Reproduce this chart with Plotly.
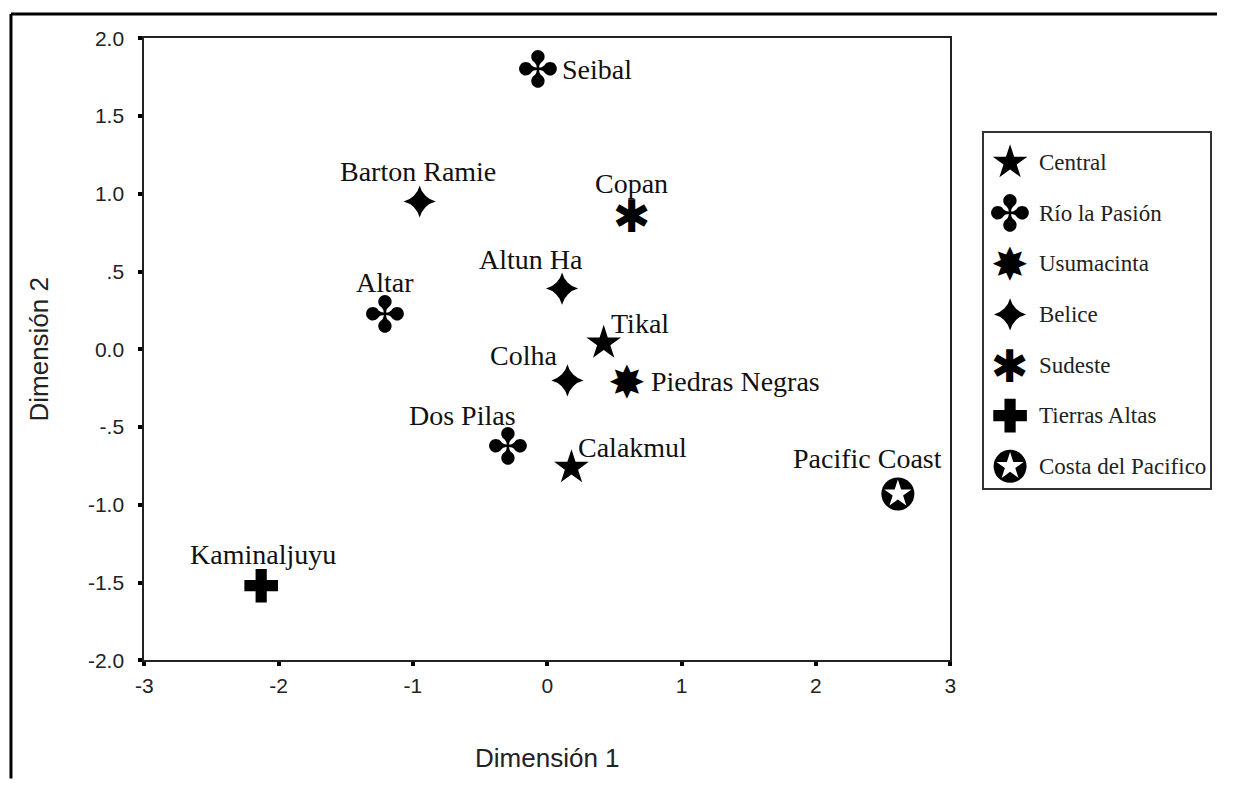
import plotly.graph_objects as go

# Site coordinates on the two MDS dimensions
sites = ["Seibal", "Barton Ramie", "Copan", "Altun Ha", "Altar", "Tikal", "Colha",
         "Piedras Negras", "Dos Pilas", "Calakmul", "Pacific Coast", "Kaminaljuyu"]
dim1 = [-0.07, -0.95, 0.63, 0.11, -1.21, 0.42, 0.15, 0.59, -0.29, 0.18, 2.61, -2.13]
dim2 = [1.80, 0.95, 0.86, 0.39, 0.23, 0.04, -0.20, -0.21, -0.62, -0.76, -0.93, -1.52]
region = ["Río la Pasión", "Belice", "Sudeste", "Belice", "Río la Pasión", "Central", "Belice",
          "Usumacinta", "Río la Pasión", "Central", "Costa del Pacifico", "Tierras Altas"]

regions = ["Central", "Río la Pasión", "Usumacinta", "Belice", "Sudeste",
           "Tierras Altas", "Costa del Pacifico"]

x_ticks = [-3, -2, -1, 0, 1, 2, 3]
y_ticks = [-2.0, -1.5, -1.0, -0.5, 0.0, 0.5, 1.0, 1.5, 2.0]
y_ticktext = ["-2.0", "-1.5", "-1.0", "-.5", "0.0", ".5", "1.0", "1.5", "2.0"]

# label placement relative to each marker: (xshift, yshift, xanchor)
label_pos = {
    "Seibal": (22, 0, "left"), "Barton Ramie": (-2, 30, "center"), "Copan": (0, 32, "center"),
    "Altun Ha": (-31, 29, "center"), "Altar": (0, 31, "center"), "Tikal": (36, 20, "center"),
    "Colha": (-44, 25, "center"), "Piedras Negras": (22, 0, "left"), "Dos Pilas": (-46, 30, "center"),
    "Calakmul": (61, 20, "center"), "Pacific Coast": (-30, 35, "center"),
    "Kaminaljuyu": (2, 31, "center"),
}

# marker style per region: ("symbol", name, size) or ("glyph", char, fontsize)
style = {
    "Central": ("symbol", "star", 26),
    "Río la Pasión": ("glyph", "\u2724", 50),
    "Usumacinta": ("glyph", "\u2738", 45),
    "Belice": ("symbol", "star-diamond", 23),
    "Sudeste": ("glyph", "\u2731", 45),
    "Tierras Altas": ("symbol", "cross", 28),
    "Costa del Pacifico": ("badge", None, 33),
}
GLYPH_DROP = -1  # small nudge so dingbat glyphs centre on their point

# the page body keeps an 8px margin on every side; the figure fills what is left
PAGE_W, PAGE_H, BODY = 1233, 798, 8
W, H = PAGE_W - 2 * BODY, PAGE_H - 2 * BODY
px = lambda v: (v - BODY) / W
py = lambda v: 1 - (v - BODY) / H

fig = go.Figure()


def add_marks(xs, ys, reg, xa="x", ya="y"):
    kind, val, size = style[reg]
    if kind == "symbol":
        fig.add_trace(go.Scatter(x=xs, y=ys, mode="markers", xaxis=xa, yaxis=ya,
                                 marker=dict(symbol=val, size=size, color="black",
                                             line=dict(width=0)),
                                 showlegend=False, hoverinfo="skip"))
    elif kind == "glyph":
        for xv, yv in zip(xs, ys):
            fig.add_annotation(x=xv, y=yv, xref=xa, yref=ya, text=val, showarrow=False,
                               xanchor="center", yanchor="middle", yshift=GLYPH_DROP,
                               font=dict(family="DejaVu Sans", size=size, color="black"))
    else:
        fig.add_trace(go.Scatter(x=xs, y=ys, mode="markers", xaxis=xa, yaxis=ya,
                                 marker=dict(symbol="circle", size=size, color="black",
                                             line=dict(width=0)),
                                 showlegend=False, hoverinfo="skip"))
        fig.add_trace(go.Scatter(x=xs, y=ys, mode="markers", xaxis=xa, yaxis=ya,
                                 marker=dict(symbol="star", size=size * 0.62, color="white",
                                             line=dict(width=0)),
                                 showlegend=False, hoverinfo="skip"))


# site markers grouped by region
for reg in regions:
    idx = [i for i, r in enumerate(region) if r == reg]
    if idx:
        add_marks([dim1[i] for i in idx], [dim2[i] for i in idx], reg)

# site labels
for name, xv, yv in zip(sites, dim1, dim2):
    dx, dy, anchor = label_pos[name]
    fig.add_annotation(x=xv, y=yv, xref="x", yref="y", text=name, showarrow=False,
                       xshift=dx, yshift=dy, xanchor=anchor, yanchor="middle",
                       font=dict(family="Liberation Serif", size=28, color="#111"))

# legend drawn on its own small axes
leg_y = list(range(1, len(regions) + 1))
for reg, yv in zip(regions, leg_y):
    add_marks([0.116], [yv], reg, xa="x2", ya="y2")
    fig.add_annotation(x=0.235, y=yv, xref="x2", yref="y2", text=reg, showarrow=False,
                       xanchor="left", yanchor="middle",
                       font=dict(family="Liberation Serif", size=23, color="#222"))

# outer frame (top and left edges)
fig.add_shape(type="line", xref="paper", yref="paper", x0=px(10), x1=1.01, y0=py(10), y1=py(10),
              line=dict(color="black", width=3))
fig.add_shape(type="line", xref="paper", yref="paper", x0=px(10), x1=px(10), y0=py(10), y1=-0.01,
              line=dict(color="black", width=3))

axis_font = dict(family="Liberation Sans", size=21, color="#222")
title_font = dict(family="Liberation Sans", size=26, color="#222")
fig.update_layout(
    width=W, height=H, margin=dict(l=0, r=0, t=0, b=0),
    paper_bgcolor="white", plot_bgcolor="white",
    showlegend=False,
    xaxis=dict(domain=[px(145), px(961)], range=[-3, 3], tickvals=x_ticks,
               ticktext=[str(v) for v in x_ticks], ticks="outside", ticklen=4, tickwidth=4,
               tickcolor="black", showgrid=False, zeroline=False, showline=True,
               linecolor="#222", linewidth=2, mirror=True, tickfont=axis_font,
               ticklabelstandoff=1,
               title=dict(text="Dimensión 1", font=title_font, standoff=53)),
    yaxis=dict(domain=[py(676), py(35)], range=[-2, 2], tickvals=y_ticks, ticktext=y_ticktext,
               ticks="outside", ticklen=4, tickwidth=4, tickcolor="black", showgrid=False,
               zeroline=False, showline=True, linecolor="#222", linewidth=2, mirror=True,
               tickfont=axis_font, ticklabelstandoff=10,
               title=dict(text="Dimensión 2", font=title_font, standoff=32)),
    xaxis2=dict(domain=[px(995), px(1224)], range=[0, 1], anchor="y2", showticklabels=False,
                ticks="", showgrid=False, zeroline=False, showline=True, linecolor="#333",
                linewidth=2, mirror=True),
    yaxis2=dict(domain=[py(498), py(133)], range=[7.42, 0.425], anchor="x2", showticklabels=False,
                ticks="", showgrid=False, zeroline=False, showline=True, linecolor="#333",
                linewidth=2, mirror=True),
)

fig.write_html("out.html")
